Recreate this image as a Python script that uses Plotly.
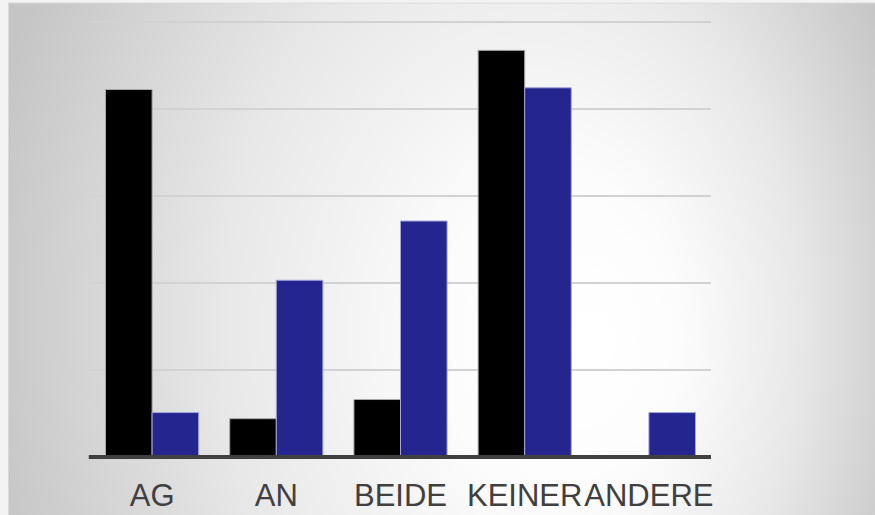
import base64
import plotly.graph_objects as go

# Category labels and the two series (share in %)
categories = ["AG", "AN", "BEIDE", "KEINER", "ANDERE"]
series_black = [42.2, 4.4, 6.6, 46.7, None]
series_blue = [5.1, 20.3, 27.1, 42.4, 5.1]
y_ticks = [0, 10, 20, 30, 40, 50]
y_max = 50.3

W, H = 875, 515
M_L, M_R, M_B = 90, 164, 58
M_T = 22 - (y_max - 50) * 8.7

# Radial grey backdrop as an inline SVG
svg = (
    '<svg xmlns="http://www.w3.org/2000/svg" width="867" height="512" '
    'viewBox="0 0 867 512" preserveAspectRatio="none">'
    '<defs><radialGradient id="g" gradientUnits="userSpaceOnUse" cx="0" cy="0" r="1" '
    'fx="0.3" fy="0.05" gradientTransform="translate(445 310) scale(480 660)">'
    '<stop offset="0" stop-color="#ffffff"/>'
    '<stop offset="0.25" stop-color="#fcfcfc"/>'
    '<stop offset="0.6" stop-color="#e8e8e8"/>'
    '<stop offset="1" stop-color="#c5c5c5"/>'
    '</radialGradient></defs>'
    '<rect x="0" y="0" width="867" height="512" fill="url(#g)"/>'
    '<line x1="0" y1="0.5" x2="867" y2="0.5" stroke="#d8d8d8" stroke-width="1"/>'
    '<line x1="0.5" y1="0" x2="0.5" y2="512" stroke="#d8d8d8" stroke-width="1"/>'
    '</svg>'
)
svg_uri = "data:image/svg+xml;base64," + base64.b64encode(svg.encode()).decode()

plot_w = W - M_L - M_R
plot_h = H - M_T - M_B

fig = go.Figure()
fig.add_trace(go.Bar(
    x=categories, y=series_black, name="A",
    marker=dict(color="#000000", line=dict(color="#a8a8a8", width=1)),
))
fig.add_trace(go.Bar(
    x=categories, y=series_blue, name="B",
    marker=dict(color="#25258f", line=dict(color="#a4a4dc", width=1)),
))

# Heavy baseline along the bottom of the plot area
fig.add_shape(type="line", xref="paper", yref="paper", x0=-0.002, x1=1, y0=0, y1=0,
              line=dict(color="#404040", width=4), layer="above")

fig.update_layout(
    width=W, height=H,
    margin=dict(l=M_L, r=M_R, t=M_T, b=M_B, pad=0, autoexpand=False),
    paper_bgcolor="#f3f3f3",
    plot_bgcolor="rgba(0,0,0,0)",
    barmode="group", bargap=0.25, bargroupgap=0,
    showlegend=False,
    images=[dict(
        source=svg_uri, xref="paper", yref="paper",
        x=(8 - M_L) / plot_w, y=(H - M_B - 3) / plot_h,
        sizex=(W - 8) / plot_w, sizey=(H - 3) / plot_h,
        xanchor="left", yanchor="top", sizing="stretch", layer="below",
    )],
    font=dict(family="Liberation Sans, Arial, sans-serif", color="#404040"),
)
fig.update_xaxes(
    showgrid=False, showline=False, zeroline=False, ticks="",
    tickfont=dict(size=31, color="#404040"),
    tickangle=0, automargin=False,
    ticklabelstandoff=17,
)
fig.update_yaxes(
    range=[0, y_max], tickvals=y_ticks, showticklabels=False,
    showgrid=True, gridcolor="#d2d2d2", gridwidth=2,
    zeroline=False, showline=False, automargin=False,
)

fig.write_html("out.html")
